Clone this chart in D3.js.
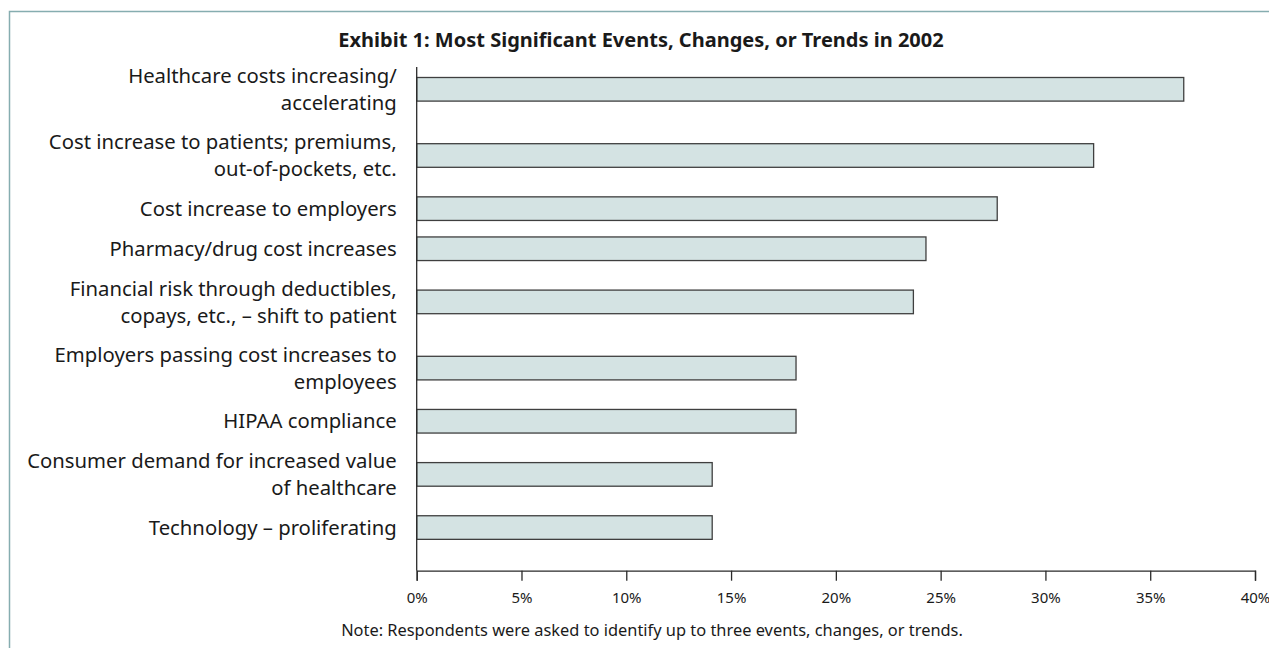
<!DOCTYPE html>
<html>
<head>
<meta charset="utf-8">
<script src="https://cdn.jsdelivr.net/npm/d3@7"></script>
<style>
  html, body { margin: 0; padding: 0; background: #fff; }
  svg { display: block; }
  text { font-family: "Noto Sans", "Open Sans", sans-serif; fill: #1a1a1a; }
</style>
</head>
<body>
<svg id="chart" width="1269" height="648"></svg>
<script>
// Survey responses: share of respondents naming each item
const categories = [
  ["Healthcare costs increasing/", "accelerating"],
  ["Cost increase to patients; premiums,", "out-of-pockets, etc."],
  ["Cost increase to employers"],
  ["Pharmacy/drug cost increases"],
  ["Financial risk through deductibles,", "copays, etc., \u2013 shift to patient"],
  ["Employers passing cost increases to", "employees"],
  ["HIPAA compliance"],
  ["Consumer demand for increased value", "of healthcare"],
  ["Technology \u2013 proliferating"]
];
const values = [36.6, 32.3, 27.7, 24.3, 23.7, 18.1, 18.1, 14.1, 14.1];
const tickValues = [0, 5, 10, 15, 20, 25, 30, 35, 40];
const title = "Exhibit 1: Most Significant Events, Changes, or Trends in 2002";
const note = "Note: Respondents were asked to identify up to three events, changes, or trends.";

const svg = d3.select("#chart");
const W = 1269, H = 648;
const font = "'Noto Sans', 'Open Sans', sans-serif";

// Outer frame (top and left rules)
svg.append("path")
  .attr("d", `M9.5,${H} V11.5 H${W}`)
  .attr("fill", "none")
  .attr("stroke", "#86adb0")
  .attr("stroke-width", 1.5);

const plot = { left: 416.7, right: 1255, top: 67, bottom: 570.7 };

// Each row is as tall as its label needs: fixed padding plus one unit per text line
const rowPad = 14, lineUnit = 26.1;
const rowHeights = categories.map(c => rowPad + lineUnit * c.length);
const rowEnds = d3.cumsum(rowHeights);
const rowStarts = rowEnds.map((e, i) => e - rowHeights[i]);
const totalRows = rowEnds[rowEnds.length - 1];

const x = d3.scaleLinear().domain([0, 40]).range([plot.left, plot.right]);
const y = d3.scaleLinear().domain([0, totalRows]).range([56.2, 56.2 + totalRows]);
const rowCenter = i => y(rowStarts[i] + rowHeights[i] / 2);
const barH = 23.6;

// Bars
svg.append("g")
  .selectAll("rect")
  .data(values)
  .join("rect")
  .attr("x", x(0))
  .attr("y", (d, i) => rowCenter(i) - barH / 2)
  .attr("width", d => x(d) - x(0))
  .attr("height", barH)
  .attr("fill", "#d4e3e3")
  .attr("stroke", "#3f3f3f")
  .attr("stroke-width", 1.3);

// Category labels, right-aligned against the axis
const lineGap = 27.2;
const labels = svg.append("g")
  .selectAll("text")
  .data(categories)
  .join("text")
  .attr("text-anchor", "end")
  .attr("font-size", 20.3)
  .attr("x", plot.left - 20)
  .attr("y", (d, i) => rowCenter(i) - (d.length - 1) * lineGap / 2 + 7.2);
labels.selectAll("tspan")
  .data(d => d)
  .join("tspan")
  .attr("x", plot.left - 20)
  .attr("dy", (d, j) => j === 0 ? 0 : lineGap)
  .text(d => d);

// Vertical axis line
svg.append("line")
  .attr("x1", plot.left).attr("x2", plot.left)
  .attr("y1", plot.top).attr("y2", plot.bottom)
  .attr("stroke", "#2a2a2a").attr("stroke-width", 1.3);

// Horizontal value axis
const xAxis = d3.axisBottom(x)
  .tickValues(tickValues)
  .tickFormat(d => d + "%")
  .tickSize(10)
  .tickPadding(11.5);
const gx = svg.append("g")
  .attr("transform", `translate(0,${plot.bottom})`)
  .call(xAxis);
gx.select(".domain").attr("stroke", "#2a2a2a").attr("stroke-width", 1.3);
gx.selectAll(".tick line").attr("stroke", "#2a2a2a").attr("stroke-width", 1.3);
gx.selectAll(".tick text")
  .attr("font-family", font)
  .attr("font-size", 15)
  .attr("fill", "#1a1a1a");

// Title
svg.append("text")
  .attr("x", 641).attr("y", 46.7)
  .attr("text-anchor", "middle")
  .attr("font-size", 20)
  .attr("font-weight", "bold")
  .text(title);

// Footnote
svg.append("text")
  .attr("x", 652).attr("y", 636)
  .attr("text-anchor", "middle")
  .attr("font-size", 16.4)
  .text(note);
</script>
</body>
</html>
